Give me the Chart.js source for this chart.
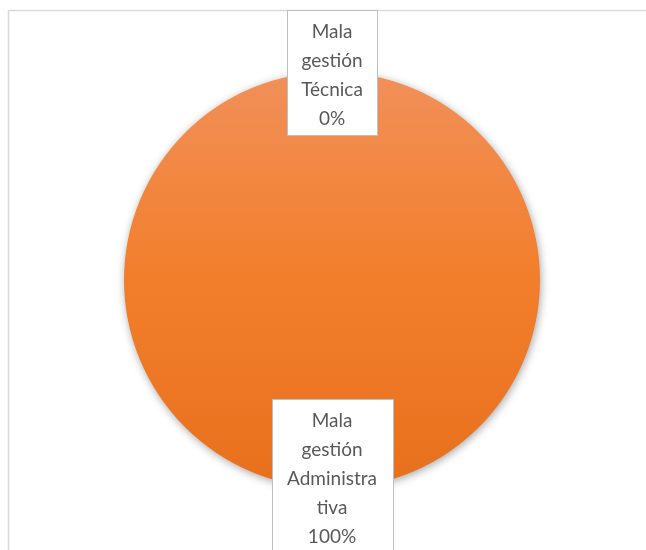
<!DOCTYPE html>
<html>
<head>
<meta charset="utf-8">
<script src="https://cdn.jsdelivr.net/npm/chart.js@4.4.1/dist/chart.umd.min.js"></script>
<style>
    html, body { margin: 0; padding: 0; background: #fff; }
    #wrap { width: 646px; height: 550px; position: relative; }
</style>
</head>
<body>
<div id="wrap"><canvas id="pieChart"></canvas></div>
<script>
const categories = ['Mala gestión Técnica', 'Mala gestión Administrativa'];
// how each category name wraps inside its label box
const labelLines = [
    ['Mala', 'gestión', 'Técnica'],
    ['Mala', 'gestión', 'Administra', 'tiva']
];
const percentages = [0, 100];

const boxWidths = [90, 121];
const boxRadius = [1.0, 0.94];

function orangeGradient(context) {
    const area = context.chart.chartArea;
    if (!area) return '#F07E2C';
    const g = context.chart.ctx.createLinearGradient(0, area.top, 0, area.bottom);
    g.addColorStop(0, '#F1905A');
    g.addColorStop(0.5, '#F27E2B');
    g.addColorStop(1, '#E8701D');
    return g;
}

// frame lines on the top and left edge
const framePlugin = {
    id: 'frame',
    beforeDraw(chart) {
        const ctx = chart.ctx;
        ctx.save();
        ctx.strokeStyle = '#D9D9D9';
        ctx.lineWidth = 1.5;
        ctx.beginPath();
        ctx.moveTo(8.5, 550);
        ctx.lineTo(8.5, 10.5);
        ctx.lineTo(646, 10.5);
        ctx.stroke();
        ctx.restore();
    }
};

const shadowPlugin = {
    id: 'pieShadow',
    beforeDatasetsDraw(chart) {
        const ctx = chart.ctx;
        ctx.save();
        ctx.shadowColor = 'rgba(0, 0, 0, 0.35)';
        ctx.shadowBlur = 9;
        ctx.shadowOffsetX = 1;
        ctx.shadowOffsetY = 2;
    },
    afterDatasetsDraw(chart) {
        chart.ctx.restore();
    }
};

// boxed data labels: name lines plus the percentage
const boxLabelPlugin = {
    id: 'boxLabels',
    afterDatasetsDraw(chart) {
        const ctx = chart.ctx;
        const meta = chart.getDatasetMeta(0);
        const lineH = 29;
        ctx.save();
        ctx.font = '19px Lato, "Open Sans", sans-serif';
        ctx.textAlign = 'center';
        ctx.textBaseline = 'middle';
        meta.data.forEach((arc, i) => {
            const p = arc.getProps(['x', 'y', 'startAngle', 'endAngle', 'outerRadius'], true);
            const mid = (p.startAngle + p.endAngle) / 2;
            const r = p.outerRadius * boxRadius[i];
            const cx = p.x + Math.cos(mid) * r;
            const cy = p.y + Math.sin(mid) * r;
            const lines = labelLines[i].concat([percentages[i] + '%']);
            const h = lines.length * lineH + 9;
            const w = boxWidths[i];
            const left = Math.round(cx - w / 2) + 0.5;
            const top = Math.round(cy - h / 2) + 0.5;
            ctx.fillStyle = '#FFFFFF';
            ctx.fillRect(left, top, w, h);
            ctx.strokeStyle = '#BFBFBF';
            ctx.lineWidth = 1;
            ctx.strokeRect(left, top, w, h);
            ctx.fillStyle = '#595959';
            lines.forEach((t, k) => {
                ctx.fillText(t, cx, top + 7 + lineH / 2 + k * lineH);
            });
        });
        ctx.restore();
    }
};

new Chart(document.getElementById('pieChart'), {
    type: 'pie',
    data: {
        labels: categories,
        datasets: [{
            data: percentages,
            backgroundColor: orangeGradient,
            borderWidth: 0
        }]
    },
    options: {
        responsive: true,
        maintainAspectRatio: false,
        animation: false,
        layout: {
            padding: { top: 72, bottom: 62, left: 18, right: 0 }
        },
        plugins: {
            legend: { display: false },
            tooltip: { enabled: false }
        }
    },
    plugins: [framePlugin, shadowPlugin, boxLabelPlugin]
});
</script>
</body>
</html>
